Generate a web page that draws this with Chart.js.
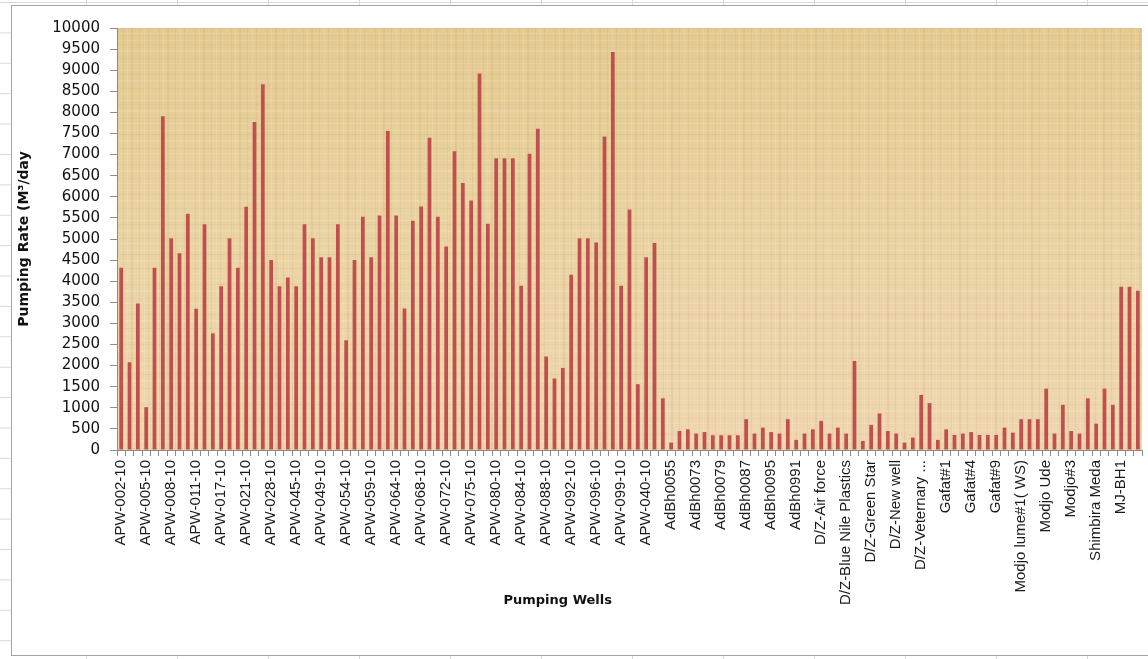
<!DOCTYPE html>
<html>
<head>
<meta charset="utf-8">
<script src="https://cdn.jsdelivr.net/npm/chart.js@4.4.1/dist/chart.umd.min.js"></script>
<style>
  html, body { margin: 0; padding: 0; }
  body {
    width: 1148px;
    height: 659px;
    overflow: hidden;
    position: relative;
    background-color: #fff;
    /* spreadsheet cells behind the chart object */
    background-image:
      linear-gradient(to bottom, #d9d9d9 1px, transparent 1px),
      linear-gradient(to right, #d9d9d9 1px, transparent 1px);
    background-size: 100% 30.4px, 91px 100%;
    background-position: 0 2px, -5px 0;
  }
  #chart_box {
    position: absolute;
    left: 11px;
    top: 5px;
    width: 1150px;
    height: 649px;
    background: #fff;
    border: 1px solid #a3a3a3;
  }
  #my_chart { position: absolute; left: 0; top: 0; }
</style>
</head>
<body>
<div id="chart_box">
  <canvas id="my_chart" width="1136" height="649"></canvas>
</div>
<script>
// one label is printed for every third well
const tick_labels = [
  'APW-002-10', 'APW-005-10', 'APW-008-10', 'APW-011-10', 'APW-017-10',
  'APW-021-10', 'APW-028-10', 'APW-045-10', 'APW-049-10', 'APW-054-10',
  'APW-059-10', 'APW-064-10', 'APW-068-10', 'APW-072-10', 'APW-075-10',
  'APW-080-10', 'APW-084-10', 'APW-088-10', 'APW-092-10', 'APW-096-10',
  'APW-099-10', 'APW-040-10', 'AdBh0055', 'AdBh0073', 'AdBh0079',
  'AdBh0087', 'AdBh0095', 'AdBh0991', 'D/Z-Air force', 'D/Z-Blue Nile Plastics',
  'D/Z-Green Star', 'D/Z-New well', 'D/Z-Veternary ...', 'Gafat#1', 'Gafat#4',
  'Gafat#9', 'Modjo lume#1( WS)', 'Modjo Ude', 'Modjo#3', 'Shimbira Meda',
  'MJ-BH1'
];

// pumping rate, m3/day, one value per well (123 wells)
const pumping_rates = [
  4320, 2080, 3470, 1015, 4320, 7910, 5020, 4665, 5600, 3350,
  5350, 2765, 3880, 5020, 4320, 5765, 7770, 8670, 4500, 3880,
  4090, 3880, 5350, 5020, 4570, 4570, 5350, 2600, 4500, 5525,
  4570, 5555, 7560, 5555, 3355, 5430, 5770, 7400, 5525, 4820,
  7080, 6325, 5910, 8920, 5360, 6915, 6915, 6915, 3890, 7020,
  7610, 2215, 1695, 1945, 4155, 5020, 5020, 4915, 7430, 9430,
  3890, 5700, 1560, 4570, 4905, 1225, 175, 450, 490, 390,
  425, 350, 350, 350, 350, 730, 390, 530, 425, 390,
  730, 240, 390, 490, 690, 390, 530, 390, 2110, 215,
  595, 865, 450, 390, 175, 295, 1305, 1110, 240, 490,
  355, 390, 425, 355, 355, 355, 530, 410, 730, 730,
  730, 1455, 390, 1070, 450, 390, 1225, 625, 1455, 1070,
  3870, 3870, 3775
];

const y_min = 0;
const y_max = 10000;
const y_step = 500;

const y_title = 'Pumping Rate (M\u00B3/day';
const x_title = 'Pumping Wells';

const categories = pumping_rates.map(function(v, i) {
  return (i % 3 === 0) ? tick_labels[i / 3] : '';
});

// small woven pattern for the papyrus look of the plot area
function make_fibre_pattern(ctx) {
  const c = document.createElement('canvas');
  c.width = 36;
  c.height = 30;
  const p = c.getContext('2d');
  p.fillStyle = 'rgba(140, 110, 60, 0.09)';
  p.fillRect(3, 0, 1, 30);
  p.fillRect(11, 0, 2, 30);
  p.fillRect(19, 0, 1, 30);
  p.fillRect(28, 0, 1, 30);
  p.fillStyle = 'rgba(150, 130, 90, 0.07)';
  p.fillRect(0, 8, 36, 1);
  p.fillRect(0, 22, 36, 1);
  p.fillStyle = 'rgba(255, 248, 230, 0.14)';
  p.fillRect(0, 4, 36, 1);
  p.fillRect(0, 14, 36, 2);
  p.fillRect(0, 27, 36, 1);
  p.fillRect(7, 0, 1, 30);
  p.fillRect(24, 0, 1, 30);
  return ctx.createPattern(c, 'repeat');
}

const papyrus_plugin = {
  id: 'papyrus',
  beforeDraw(chart) {
    const a = chart.chartArea;
    const ctx = chart.ctx;
    ctx.save();
    const g = ctx.createLinearGradient(0, a.top, 0, a.bottom);
    g.addColorStop(0, '#e4ca90');
    g.addColorStop(0.45, '#ead3a2');
    g.addColorStop(1, '#efd6b0');
    ctx.fillStyle = g;
    ctx.fillRect(a.left, a.top, a.right - a.left, a.bottom - a.top);
    ctx.fillStyle = make_fibre_pattern(ctx);
    ctx.fillRect(a.left, a.top, a.right - a.left, a.bottom - a.top);
    ctx.restore();
  }
};

// the axis title sits left of the plot centre in the original
const x_title_plugin = {
  id: 'x_title',
  afterDraw(chart) {
    const a = chart.chartArea;
    const ctx = chart.ctx;
    ctx.save();
    ctx.font = 'bold 13px "DejaVu Sans"';
    ctx.fillStyle = '#111';
    ctx.textAlign = 'center';
    ctx.textBaseline = 'middle';
    ctx.fillText(x_title, a.left + (a.right - a.left) * 0.43, a.bottom + 151);
    ctx.restore();
  }
};

function create_chart() {
  const data = {
    labels: categories,
    datasets: [{
      label: 'Pumping Rate',
      data: pumping_rates,
      backgroundColor: '#c0504d',
      borderWidth: 0,
      barPercentage: 0.45,
      categoryPercentage: 1.0
    }]
  };

  const config = {
    type: 'bar',
    data,
    options: {
      responsive: false,
      animation: false,
      layout: { padding: { top: 22, right: 6, bottom: 0, left: 0 } },
      plugins: {
        legend: { display: false },
        tooltip: { enabled: false }
      },
      scales: {
        x: {
          grid: { drawOnChartArea: false, drawTicks: true, tickLength: 6, color: '#8c8c8c' },
          border: { color: '#8c8c8c' },
          ticks: {
            autoSkip: false,
            maxRotation: 90,
            minRotation: 90,
            padding: 4,
            color: '#1a1a1a',
            font: { family: 'Liberation Sans', size: 15 }
          },
          afterFit: function(scale) {
            scale.height = 205;
            scale.paddingLeft = 0;
            scale.paddingRight = 0;
          }
        },
        y: {
          min: y_min,
          max: y_max,
          ticks: {
            stepSize: y_step,
            padding: 10,
            color: '#111',
            font: { family: 'DejaVu Sans', size: 15 },
            callback: function(v) { return String(v); }
          },
          grid: { drawOnChartArea: false, drawTicks: true, tickLength: 7, color: '#8c8c8c' },
          border: { color: '#8c8c8c' },
          title: {
            display: true,
            text: y_title,
            color: '#111',
            font: { family: 'DejaVu Sans', size: 14, weight: 'bold' },
            padding: { top: 4, bottom: 0 }
          },
          afterFit: function(scale) { scale.width = 105; }
        }
      }
    },
    plugins: [papyrus_plugin, x_title_plugin]
  };

  const canv = document.getElementById('my_chart');
  new Chart(canv.getContext('2d'), config);
}

create_chart();
</script>
</body>
</html>
